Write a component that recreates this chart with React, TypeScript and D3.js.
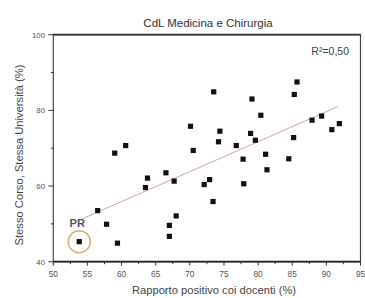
import React from "react";
import * as d3 from "d3";

const title = "CdL Medicina e Chirurgia";
const xLabel = "Rapporto positivo coi docenti (%)";
const yLabel = "Stesso Corso, Stessa Università (%)";
const r2Label = "R²=0,50";
const highlightLabel = "PR";

const xVals = [73.5, 79.1, 85.7, 85.3, 59.0, 60.6, 70.1, 70.5, 74.4, 74.2, 76.8, 77.8, 78.9, 79.6, 80.4, 81.1, 81.3, 84.5, 85.2, 87.9, 89.3, 90.8, 91.9, 63.8, 63.5, 66.5, 67.7, 72.1, 72.9, 77.9, 73.4, 56.5, 57.8, 53.8, 59.4, 67.0, 67.0, 68.0];
const yVals = [84.9, 83.0, 87.5, 84.2, 68.7, 70.7, 75.8, 69.4, 74.5, 71.7, 70.7, 67.1, 73.9, 72.1, 78.7, 68.4, 64.3, 67.2, 72.8, 77.4, 78.5, 74.9, 76.5, 62.1, 59.6, 63.5, 61.3, 60.4, 61.7, 60.6, 55.9, 53.5, 49.9, 45.3, 44.9, 49.6, 46.7, 52.1];
const highlightIndex = 33;

const fitX = [54.2, 91.7];
const fitY = [51.3, 81.0];

const xTicks = [50, 55, 60, 65, 70, 75, 80, 85, 90, 95];
const xMinor = [52.5, 57.5, 62.5, 67.5, 72.5, 77.5, 82.5, 87.5, 92.5];
const yTicks = [40, 60, 80, 100];
const yMinor = [50, 70, 90];

export default function App() {
  const W = 365, H = 298;
  const left = 53.3, right = 360.5, top = 34.7, bottom = 261.7;
  const x = d3.scaleLinear().domain([50, 95]).range([left, right]);
  const y = d3.scaleLinear().domain([40, 100]).range([bottom, top]);
  const font = "'Liberation Sans', Arial, sans-serif";
  const line = d3.line<number>().x((_, i) => x(fitX[i])).y((_, i) => y(fitY[i]));
  const pts = xVals.map((v, i) => ({ x: v, y: yVals[i] }));
  const hl = pts[highlightIndex];
  return (
    <svg width={W} height={H} style={{ position: "absolute", left: 0, top: 0, background: "#fff" }}>
      <rect x={0} y={0} width={W} height={H} fill="#fff" />
      <text x={208} y={26.5} textAnchor="middle" fontFamily={font} fontSize={11.5} fill="#333">{title}</text>
      <path d={line([0, 1]) || ""} stroke="#d6a3a3" strokeWidth={1} fill="none" />
      {pts.map((p, i) => (
        <rect key={i} x={x(p.x) - 2.6} y={y(p.y) - 2.6} width={5.2} height={5.2} fill="#111" />
      ))}
      <circle cx={x(hl.x)} cy={y(hl.y)} r={11} fill="none" stroke="#cdb47a" strokeWidth={1.5} />
      <text x={x(hl.x) - 2} y={y(hl.y) - 15} textAnchor="middle" fontFamily={font} fontSize={11} fontWeight="bold" fill="#555">{highlightLabel}</text>
      <text x={349} y={55} textAnchor="end" fontFamily={font} fontSize={10.5} fill="#444">{r2Label}</text>
      <rect x={left} y={top} width={right - left} height={bottom - top} fill="none" stroke="#444" strokeWidth={1.2} />
      <line x1={left} x2={right} y1={top} y2={top} stroke="#333" strokeWidth={1.8} />
      <line x1={left} x2={right} y1={bottom} y2={bottom} stroke="#222" strokeWidth={1.8} />
      {xTicks.map((t) => (
        <g key={"x" + t}>
          <line x1={x(t)} x2={x(t)} y1={bottom} y2={bottom + 4} stroke="#333" strokeWidth={1} />
          <text x={x(t)} y={277} textAnchor="middle" fontFamily={font} fontSize={8.3} fill="#555">{t}</text>
        </g>
      ))}
      {xMinor.map((t) => (
        <line key={"xm" + t} x1={x(t)} x2={x(t)} y1={bottom} y2={bottom + 2.5} stroke="#333" strokeWidth={1} />
      ))}
      {yTicks.map((t) => (
        <g key={"y" + t}>
          <line x1={left - 5} x2={left} y1={y(t)} y2={y(t)} stroke="#333" strokeWidth={1} />
          <text x={45} y={y(t) + 2.8} textAnchor="end" fontFamily={font} fontSize={7.8} fill="#555">{t}</text>
        </g>
      ))}
      {yMinor.map((t) => (
        <line key={"ym" + t} x1={left - 2.5} x2={left} y1={y(t)} y2={y(t)} stroke="#333" strokeWidth={1} />
      ))}
      <text transform={`translate(22.5,155) rotate(-90)`} textAnchor="middle" fontFamily={font} fontSize={11.2} fill="#444">{yLabel}</text>
      <text x={214} y={293.5} textAnchor="middle" fontFamily={font} fontSize={11.2} fill="#444">{xLabel}</text>
    </svg>
  );
}
